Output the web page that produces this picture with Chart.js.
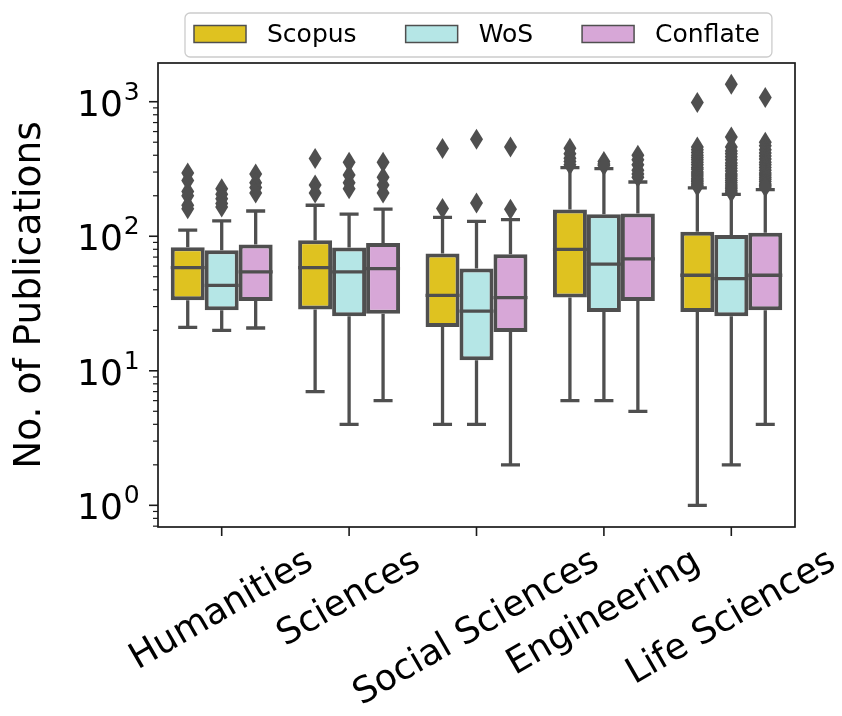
<!DOCTYPE html>
<html>
<head>
<meta charset="utf-8">
<script src="https://cdn.jsdelivr.net/npm/chart.js@4.4.0/dist/chart.umd.min.js"></script>
<style>
  html, body { margin: 0; padding: 0; background: #fff; }
  #wrap { width: 842px; height: 716px; }
</style>
</head>
<body>
<div id="wrap"><canvas id="pubChart"></canvas></div>
<script>
const categories = ['Humanities', 'Sciences', 'Social Sciences', 'Engineering', 'Life Sciences'];
const seriesNames = ['Scopus', 'WoS', 'Conflate'];
const seriesColors = ['#dfc220', '#b5e6e6', '#d7a7d7'];
const tickValues = [1, 10, 100, 1000];
const tickBases = ['10', '10', '10', '10'];
const tickExponents = ['0', '1', '2', '3'];

// box stats (log scale, so rough)
const scopusLow = [21, 7, 4, 6, 1];
const scopusQ1 = [33.4, 28.5, 21.2, 35, 27.4];
const scopusMedian = [58.5, 58.5, 36.4, 80, 51.3];
const scopusQ3 = [83, 93.4, 74.3, 158, 108];
const scopusHigh = [111, 170, 138, 324, 229];
const scopusOutliers = [
  [295, 260, 215, 200, 170, 160],
  [378, 240, 210],
  [449, 161],
  [450, 410, 380, 360, 340],
  [986, 460, 440, 420, 400, 385, 370, 355, 340, 325, 315, 300, 290, 280, 270, 262, 255, 248, 240, 235]
];

const wosLow = [20, 4, 4, 6, 2];
const wosQ1 = [28.2, 25.4, 12, 27.4, 25.4];
const wosMedian = [43.2, 54.3, 27.8, 62, 48.5];
const wosQ3 = [78.7, 82.4, 57.5, 146, 102];
const wosHigh = [130, 146, 129, 318, 205];
const wosOutliers = [
  [225, 205, 190, 175, 165],
  [355, 285, 250, 225],
  [526, 177],
  [360, 345, 335],
  [1349, 547, 460, 430, 410, 390, 370, 350, 335, 320, 305, 290, 280, 270, 260, 250, 240, 232, 225, 218, 212]
];

const conflateLow = [20.8, 6, 2, 5, 4];
const conflateQ1 = [33, 26.6, 19.4, 33, 28.2];
const conflateMedian = [54.3, 57.5, 35, 68, 51.3];
const conflateQ3 = [87, 89, 73.5, 147.6, 106];
const conflateHigh = [154, 159, 133, 253, 222];
const conflateOutliers = [
  [290, 250, 230, 210],
  [355, 275, 240, 210],
  [461, 159],
  [400, 370, 340, 310, 290, 275],
  [1075, 500, 470, 440, 415, 395, 375, 355, 340, 325, 310, 295, 285, 275, 265, 255, 245, 238, 232]
];

const stats = [
  { low: scopusLow, q1: scopusQ1, med: scopusMedian, q3: scopusQ3, high: scopusHigh, out: scopusOutliers },
  { low: wosLow, q1: wosQ1, med: wosMedian, q3: wosQ3, high: wosHigh, out: wosOutliers },
  { low: conflateLow, q1: conflateQ1, med: conflateMedian, q3: conflateQ3, high: conflateHigh, out: conflateOutliers }
];

const FONT = '"DejaVu Sans", sans-serif';
const edgeGray = '#4f4f4f';

// whiskers, caps, medians and fliers on top of the floating bars
const boxExtras = {
  id: 'boxExtras',
  afterDatasetsDraw(chart) {
    const { ctx } = chart;
    const y = chart.scales.y;
    ctx.save();
    ctx.strokeStyle = edgeGray;
    ctx.fillStyle = edgeGray;
    ctx.lineWidth = 3.3;
    ctx.lineCap = 'butt';
    chart.data.datasets.forEach((ds, d) => {
      const s = stats[d];
      chart.getDatasetMeta(d).data.forEach((bar, i) => {
        const { x, width } = bar.getProps(['x', 'width'], true);
        const capW = width * 0.56;
        const yq1 = y.getPixelForValue(s.q1[i]);
        const yq3 = y.getPixelForValue(s.q3[i]);
        const ylo = y.getPixelForValue(s.low[i]);
        const yhi = y.getPixelForValue(s.high[i]);
        const ymed = y.getPixelForValue(s.med[i]);
        ctx.beginPath();
        ctx.moveTo(x, yq1); ctx.lineTo(x, ylo);
        ctx.moveTo(x, yq3); ctx.lineTo(x, yhi);
        ctx.moveTo(x - capW / 2, ylo); ctx.lineTo(x + capW / 2, ylo);
        ctx.moveTo(x - capW / 2, yhi); ctx.lineTo(x + capW / 2, yhi);
        ctx.moveTo(x - width / 2, ymed); ctx.lineTo(x + width / 2, ymed);
        ctx.stroke();
        s.out[i].forEach(v => {
          const py = y.getPixelForValue(v);
          ctx.beginPath();
          ctx.moveTo(x, py - 10.5);
          ctx.lineTo(x + 6.5, py);
          ctx.lineTo(x, py + 10.5);
          ctx.lineTo(x - 6.5, py);
          ctx.closePath();
          ctx.fill();
        });
      });
    });
    ctx.restore();
  },
  afterDraw(chart) {
    const { ctx, chartArea } = chart;
    const y = chart.scales.y;
    const xs = chart.scales.x;
    ctx.save();
    // frame
    ctx.strokeStyle = '#1a1a1a';
    ctx.lineWidth = 1.7;
    ctx.strokeRect(chartArea.left, chartArea.top, chartArea.right - chartArea.left, chartArea.bottom - chartArea.top);

    // log ticks, major and minor
    for (let e = -1; e <= 3; e++) {
      for (let m = 1; m <= 9; m++) {
        const v = m * Math.pow(10, e);
        if (v < y.min || v > y.max) continue;
        const py = y.getPixelForValue(v);
        const len = m === 1 ? 9 : 5;
        ctx.lineWidth = m === 1 ? 1.6 : 1.2;
        ctx.beginPath();
        ctx.moveTo(chartArea.left, py);
        ctx.lineTo(chartArea.left - len, py);
        ctx.stroke();
      }
    }

    // y tick labels as 10 with a raised exponent
    ctx.fillStyle = '#000';
    ctx.textAlign = 'left';
    ctx.textBaseline = 'alphabetic';
    tickValues.forEach((v, k) => {
      const py = y.getPixelForValue(v);
      ctx.font = '36px ' + FONT;
      const bx = 77;
      ctx.fillText(tickBases[k], bx, py + 14);
      const bw = ctx.measureText(tickBases[k]).width;
      ctx.font = '25px ' + FONT;
      ctx.fillText(tickExponents[k], bx + bw + 1, py - 2);
    });

    // x ticks and rotated labels, centred under the tick like matplotlib
    ctx.font = '36px ' + FONT;
    ctx.textAlign = 'center';
    ctx.textBaseline = 'middle';
    const ang = Math.PI / 6;
    categories.forEach((label, i) => {
      const px = xs.getPixelForTick(i);
      ctx.lineWidth = 1.6;
      ctx.beginPath();
      ctx.moveTo(px, chartArea.bottom);
      ctx.lineTo(px, chartArea.bottom + 9);
      ctx.stroke();
      const w = ctx.measureText(label).width;
      const h = 36 * 1.164;
      const boxH = w * Math.sin(ang) + h * Math.cos(ang);
      const cy = chartArea.bottom + 14 + boxH / 2;
      ctx.save();
      ctx.translate(px, cy);
      ctx.rotate(-ang);
      ctx.fillText(label, 0, 0);
      ctx.restore();
    });

    // legend box
    ctx.font = '25px ' + FONT;
    const patchW = 52, patchH = 17, gapText = 21, gapCol = 49;
    let lx = 194;
    const ly = 34;
    let total = 0;
    seriesNames.forEach((n, k) => {
      total += patchW + gapText + ctx.measureText(n).width + (k < seriesNames.length - 1 ? gapCol : 0);
    });
    ctx.beginPath();
    ctx.roundRect(lx - 9, ly - 21, total + 21, 44, 5);
    ctx.fillStyle = 'rgba(255,255,255,0.9)';
    ctx.fill();
    ctx.strokeStyle = '#cccccc';
    ctx.lineWidth = 1.3;
    ctx.stroke();
    ctx.textAlign = 'left';
    ctx.textBaseline = 'middle';
    seriesNames.forEach((n, k) => {
      ctx.fillStyle = seriesColors[k];
      ctx.fillRect(lx, ly - patchH / 2, patchW, patchH);
      ctx.strokeStyle = edgeGray;
      ctx.lineWidth = 1.5;
      ctx.strokeRect(lx, ly - patchH / 2, patchW, patchH);
      ctx.fillStyle = '#000';
      ctx.fillText(n, lx + patchW + gapText, ly + 1);
      lx += patchW + gapText + ctx.measureText(n).width + gapCol;
    });
    ctx.restore();
  }
};

const ctx = document.getElementById('pubChart').getContext('2d');
new Chart(ctx, {
  type: 'bar',
  data: {
    labels: categories,
    datasets: seriesNames.map((name, d) => ({
      label: name,
      data: categories.map((c, i) => [stats[d].q1[i], stats[d].q3[i]]),
      backgroundColor: seriesColors[d],
      borderColor: edgeGray,
      borderWidth: 4,
      borderSkipped: false,
      inflateAmount: 0,
      categoryPercentage: 0.8,
      barPercentage: 1.0
    }))
  },
  options: {
    responsive: true,
    maintainAspectRatio: false,
    animation: false,
    layout: { padding: { top: 63, right: 47, left: 0, bottom: 0 } },
    plugins: {
      legend: { display: false },
      tooltip: { enabled: false }
    },
    scales: {
      x: {
        type: 'category',
        offset: true,
        grid: { display: false },
        border: { display: false },
        ticks: { display: false },
        afterFit: (axis) => { axis.height = 189; axis.paddingLeft = 0; axis.paddingRight = 0; }
      },
      y: {
        type: 'logarithmic',
        min: 0.69,
        max: 1940,
        afterBuildTicks: (axis) => { axis.ticks = tickValues.map(v => ({ value: v, major: true })); },
        afterFit: (axis) => { axis.width = 158; },
        grid: { display: false },
        border: { display: false },
        ticks: { display: false },
        title: {
          display: true,
          text: 'No. of Publications',
          color: '#000',
          font: { family: FONT, size: 37.5 },
          padding: { top: 8, bottom: 0 }
        }
      }
    }
  },
  plugins: [boxExtras]
});
</script>
</body>
</html>
